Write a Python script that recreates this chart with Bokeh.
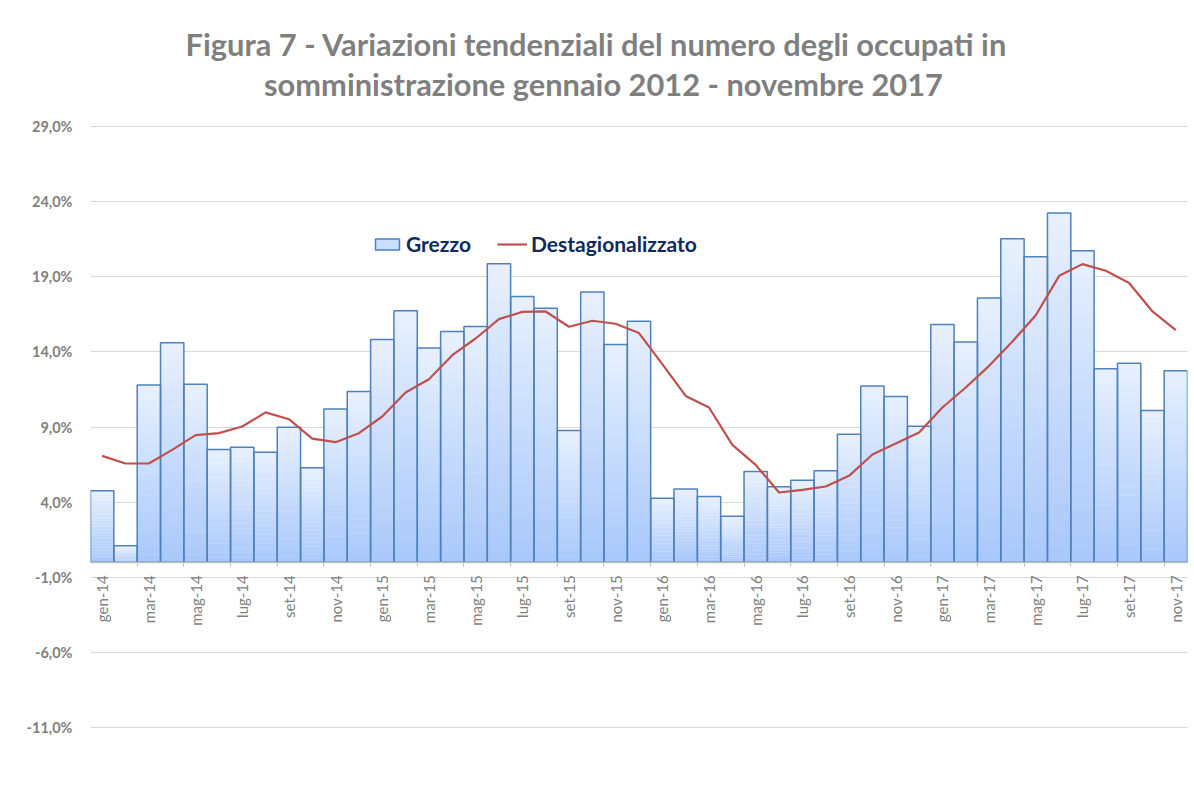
from bokeh.plotting import figure
from bokeh.models import (Range1d, FixedTicker, Legend, LegendItem, ColumnDataSource)
from bokeh.core.properties import value
from bokeh.embed import file_html
from bokeh.resources import INLINE
import math

# ---- data ----
months = ["gen", "feb", "mar", "apr", "mag", "giu", "lug", "ago", "set", "ott", "nov", "dic"]
years = ["14", "15", "16", "17"]
categories = [f"{m}-{y}" for y in years for m in months][:47]  # gen-14 .. nov-17

grezzo = [4.75, 1.1, 11.8, 14.6, 11.85, 7.5, 7.66, 7.32, 8.99, 6.28, 10.19, 11.36,
          14.83, 16.73, 14.25, 15.36, 15.69, 19.86, 17.69, 16.91, 8.77, 17.98, 14.49, 16.04,
          4.26, 4.88, 4.37, 3.06, 6.04, 5.02, 5.46, 6.08, 8.52, 11.73, 11.03, 9.05,
          15.82, 14.65, 17.58, 21.53, 20.33, 23.24, 20.73, 12.87, 13.25, 10.1, 12.74]

destag = [7.08, 6.57, 6.57, 7.48, 8.46, 8.59, 9.03, 9.97, 9.52, 8.23, 7.99, 8.59,
          9.7, 11.3, 12.18, 13.78, 14.89, 16.18, 16.66, 16.69, 15.67, 16.07, 15.87, 15.25,
          13.18, 11.07, 10.3, 7.81, 6.48, 4.64, 4.81, 5.04, 5.75, 7.17, 7.9, 8.63,
          10.3, 11.63, 13.07, 14.69, 16.44, 19.06, 19.84, 19.4, 18.58, 16.69, 15.45]

y_ticks = [-11, -6, -1, 4, 9, 14, 19, 24, 29]
y_tick_labels = {t: f"{t:.1f}".replace(".", ",") + "%" for t in y_ticks}

title_lines = ["Figura 7 - Variazioni tendenziali del numero degli occupati in",
               "somministrazione gennaio 2012 - novembre 2017"]

# ---- figure ----
W, H = 1188, 785
FONT = "Lato"
PX_PER_UNIT = 15.025
SLOT = 1097 / 47
Y_TOP = 29 + 126 / PX_PER_UNIT
Y_BOT = Y_TOP - H / PX_PER_UNIT
p = figure(width=W, height=H, output_backend="svg", toolbar_location=None,
           x_range=Range1d(-0.5, 46.5), y_range=Range1d(Y_BOT, Y_TOP),
           min_border_left=90, min_border_right=1, min_border_top=0, min_border_bottom=0)
p.outline_line_color = None
p.background_fill_color = "white"
p.border_fill_color = "white"

# gridlines
p.ygrid.ticker = FixedTicker(ticks=y_ticks)
p.ygrid.grid_line_color = "#d9d9d9"
p.ygrid.grid_line_width = 1
p.xgrid.grid_line_color = None

# y axis
p.yaxis.ticker = FixedTicker(ticks=y_ticks)
p.yaxis.major_label_overrides = y_tick_labels
p.yaxis.axis_line_color = None
p.yaxis.major_tick_line_color = None
p.yaxis.minor_tick_line_color = None
p.yaxis.major_label_text_font = FONT
p.yaxis.major_label_text_font_style = "bold"
p.yaxis.major_label_text_font_size = "14.5px"
p.yaxis.major_label_text_color = "#7f7f7f"
p.yaxis.major_label_standoff = 12

# x axis (crosses at 0)
xt = list(range(0, 47, 2))
p.xaxis.ticker = FixedTicker(ticks=xt, minor_ticks=[i + 0.5 for i in range(1, 46, 2)])
p.xaxis.major_label_overrides = {i: categories[i] for i in xt}
p.xaxis.fixed_location = 0
p.xaxis.major_label_orientation = math.pi / 2
p.xaxis.major_tick_line_color = None
p.xaxis.minor_tick_line_color = "#bfbfbf"
p.xaxis.minor_tick_in = 0
p.xaxis.minor_tick_out = 4
p.xaxis.axis_line_color = "#bfbfbf"
p.xaxis.axis_line_width = 1.5
p.xaxis.major_label_text_font = FONT
p.xaxis.major_label_text_font_size = "15px"
p.xaxis.major_label_text_color = "#7f7f7f"
p.xaxis.major_label_standoff = 7

# ---- bars with vertical gradient (emulated by stacked bands) ----
N = 24
top_c = (0xE8, 0xF0, 0xFD)
bot_c = (0xA8, 0xC8, 0xFB)
xs, bs, ts, cs = [], [], [], []
for i, v in enumerate(grezzo):
    for k in range(N):
        f0 = k / N
        f1 = (k + 1) / N
        xs.append(i)
        bs.append(v * f0)
        ts.append(v * f1 + (v * 0.002 if k < N - 1 else 0))
        t = (k + 0.5) / N  # 0 bottom -> 1 top
        c = tuple(int(round(bot_c[j] + (top_c[j] - bot_c[j]) * t)) for j in range(3))
        cs.append("#%02x%02x%02x" % c)
band_src = ColumnDataSource(dict(x=xs, bottom=bs, top=ts, color=cs))
band_r = p.vbar(x="x", bottom="bottom", top="top", width=1.0, source=band_src,
                fill_color="color", line_color=None)

bar_src = ColumnDataSource(dict(x=list(range(47)), top=grezzo))
outline_r = p.vbar(x="x", top="top", bottom=0, width=1.0, source=bar_src,
                   fill_color=None, line_color="#4f81bd", line_width=1.5)

line_src = ColumnDataSource(dict(x=list(range(47)), y=destag))
line_r = p.line(x="x", y="y", source=line_src, line_color="#c0504d", line_width=2.2)

# title (drawn as text inside the extended frame, above the 29% gridline)
title_src = ColumnDataSource(dict(x=[(597 - 91) / SLOT - 0.5, (604 - 91) / SLOT - 0.5],
                                  y=[29 + (127 - 45) / PX_PER_UNIT, 29 + (127 - 85) / PX_PER_UNIT],
                                  text=title_lines))
p.text(x="x", y="y", text="text", source=title_src, text_align="center", text_baseline="middle",
       text_font=value(FONT), text_font_style="bold", text_font_size="30.8px", text_color="#7f7f7f")

# legend
legend = Legend(items=[LegendItem(label="Grezzo", renderers=[band_r, outline_r], index=N // 2),
                       LegendItem(label="Destagionalizzato", renderers=[line_r])],
                orientation="horizontal", location=(282, 529),
                border_line_color=None, background_fill_alpha=0,
                padding=0, margin=0, spacing=26,
                glyph_width=30, glyph_height=14, label_height=20, label_standoff=4,
                label_text_font=FONT, label_text_font_style="bold",
                label_text_font_size="21px", label_text_color="#0e2a5e")
p.add_layout(legend, "center")

open("out.html", "w").write(file_html(p, INLINE))
